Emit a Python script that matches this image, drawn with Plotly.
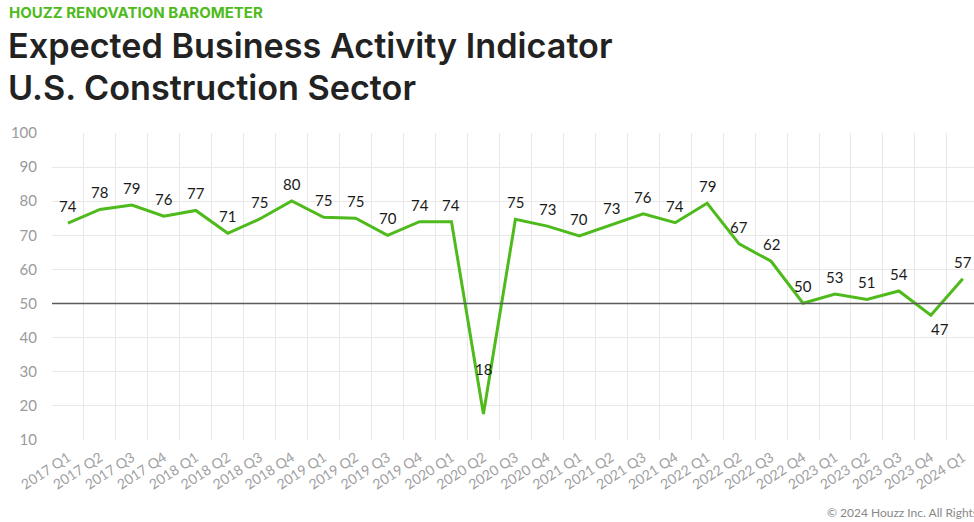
import plotly.graph_objects as go

quarters = ["2017 Q1", "2017 Q2", "2017 Q3", "2017 Q4",
            "2018 Q1", "2018 Q2", "2018 Q3", "2018 Q4",
            "2019 Q1", "2019 Q2", "2019 Q3", "2019 Q4",
            "2020 Q1", "2020 Q2", "2020 Q3", "2020 Q4",
            "2021 Q1", "2021 Q2", "2021 Q3", "2021 Q4",
            "2022 Q1", "2022 Q2", "2022 Q3", "2022 Q4",
            "2023 Q1", "2023 Q2", "2023 Q3", "2023 Q4",
            "2024 Q1"]
values = [73.6, 77.6, 78.9, 75.6,
          77.3, 70.6, 74.8, 80.1,
          75.3, 75.0, 70.0, 74.0,
          74.0, 17.6, 74.7, 72.7,
          69.8, 73.0, 76.3, 73.7,
          79.4, 67.5, 62.4, 50.1,
          52.8, 51.2, 53.7, 46.6,
          57.3]
labels = ["74", "78", "79", "76",
          "77", "71", "75", "80",
          "75", "75", "70", "74",
          "74", "18", "75", "73",
          "70", "73", "76", "74",
          "79", "67", "62", "50",
          "53", "51", "54", "47",
          "57"]
y_ticks = [10, 20, 30, 40, 50, 60, 70, 80, 90, 100]
reference_level = 50

GREEN = "#4fba1c"
W, H = 974, 522
ML, MR, MT, MB = 52, 0, 133, 82
PW = W - ML - MR
PH = H - MT - MB

def px_x(p):
    return (p - ML) / PW

def px_y(p):
    return (H - MB - p) / PH

fig = go.Figure()
fig.add_trace(go.Scatter(
    x=quarters, y=values, mode="lines",
    line=dict(color=GREEN, width=3),
    hoverinfo="skip", showlegend=False,
))

fig.add_hline(y=reference_level, line=dict(color="#5a5a5a", width=1.5), layer="above")

annotations = []
for i, (q, v, lab) in enumerate(zip(quarters, values, labels)):
    if lab == "18":
        yshift, xshift = 45, 0
    elif lab == "47" and i == 27:
        yshift, xshift = -14, 9
    else:
        yshift, xshift = 17, 0
    annotations.append(dict(
        x=q, y=v, xref="x", yref="y", text=lab, showarrow=False,
        yshift=yshift, xshift=xshift, xanchor="center", yanchor="middle",
        font=dict(family="Lato, sans-serif", size=15, color="#1a1a1a"),
    ))

annotations += [
    dict(text="HOUZZ RENOVATION BAROMETER", xref="paper", yref="paper",
         x=px_x(7), y=px_y(12), xanchor="left", yanchor="middle", showarrow=False,
         font=dict(family="Inter, sans-serif", size=15, color=GREEN, weight=700)),
    dict(text="Expected Business Activity Indicator", xref="paper", yref="paper",
         x=px_x(6), y=px_y(45), xanchor="left", yanchor="middle", showarrow=False,
         font=dict(family="Inter, sans-serif", size=34.2, color="#222222", weight=600)),
    dict(text="U.S. Construction Sector", xref="paper", yref="paper",
         x=px_x(6), y=px_y(88), xanchor="left", yanchor="middle", showarrow=False,
         font=dict(family="Inter, sans-serif", size=34.2, color="#222222", weight=600)),
    dict(text="© 2024 Houzz Inc. All Rights Reserved", xref="paper", yref="paper",
         x=px_x(825), y=px_y(512), xanchor="left", yanchor="middle", showarrow=False,
         font=dict(family="Lato, sans-serif", size=12, color="#888888")),
]

fig.update_layout(
    width=W, height=H,
    margin=dict(l=ML, r=MR, t=MT, b=MB, pad=0),
    paper_bgcolor="white", plot_bgcolor="white",
    annotations=annotations,
    xaxis=dict(
        type="category", range=[-0.5, 28.35],
        tickson="boundaries", showgrid=True, gridcolor="#e8e8e8", gridwidth=1,
        tickangle=-33, ticks="", showline=False, zeroline=False,
        ticklabelstandoff=6,
        tickfont=dict(family="Lato, sans-serif", size=14, color="#9f9f9f"),
        fixedrange=True,
    ),
    yaxis=dict(
        range=[10, 100], tickvals=y_ticks, showgrid=True, gridcolor="#e8e8e8",
        gridwidth=1, zeroline=False, showline=False, ticks="",
        ticklabelstandoff=14,
        tickfont=dict(family="Lato, sans-serif", size=15, color="#9a9a9a"),
        fixedrange=True,
    ),
)

fig.write_html("out.html", config={"displayModeBar": False})
